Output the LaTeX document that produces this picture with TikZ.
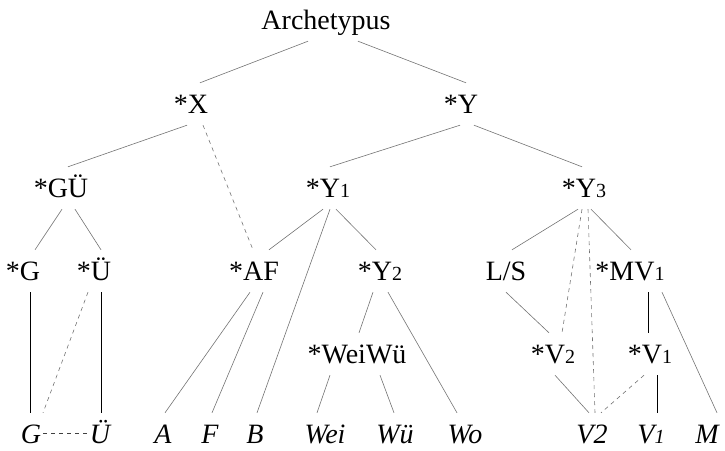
\documentclass[tikz,border=0pt]{standalone}
\usepackage{fontspec}
\setmainfont{Liberation Serif}
\newcommand\dsub[1]{{\fontsize{20}{20}\selectfont #1}}
\begin{document}
\begin{tikzpicture}[x=1pt,y=-1pt,
  every node/.style={font=\fontsize{28}{30}\selectfont, anchor=base,
    inner xsep=2pt, inner ysep=6pt, text height=24pt, text depth=6pt},
  wit/.style={font=\fontsize{28}{30}\selectfont\itshape,
    inner ysep=1pt, text height=29pt, text depth=1pt},
  edge/.style={draw=black!55, line width=0.6pt},
  lost/.style={draw=black!55, line width=0.6pt, dash pattern=on 4pt off 4pt},
  firm/.style={draw=black, line width=0.8pt}]
\useasboundingbox (0,0) rectangle (725,450);

% hypothetical and extant witnesses
\node (arch) at (326,29) {Archetypus};
\node (X)    at (191,113) {*X};
\node (Y)    at (461,113) {*Y};
\node (GU)   at (61,197)  {*GÜ};
\node (Y1)   at (328,197) {*Y\dsub{1}};
\node (Y3)   at (584,197) {*Y\dsub{3}};
\node (Gs)   at (23,280)  {*G};
\node (Us)   at (94,280)  {*Ü};
\node (AF)   at (254,280) {*AF};
\node (Y2)   at (380,280) {*Y\dsub{2}};
\node (LS)   at (506,280) {L/S};
\node (MV1)  at (630,280) {*MV\dsub{1}};
\node (WW)   at (357,363) {*WeiWü};
\node (V2s)  at (553,363) {*V\dsub{2}};
\node (V1s)  at (650,363) {*V\dsub{1}};

\node[wit] (G)   at (31,443)  {G};
\node[wit] (U)   at (100,443) {Ü};
\node[wit] (A)   at (163,443) {A};
\node[wit] (F)   at (210,443) {F};
\node[wit] (B)   at (255,443) {B};
\node[wit] (Wei) at (325,443) {Wei};
\node[wit] (Wu)  at (395,443) {Wü};
\node[wit] (Wo)  at (465,443) {Wo};
\node[wit] (V2)  at (592,443) {V2};
\node[wit] (V1)  at (651,443) {V\dsub{1}};
\node[wit] (M)   at (707,443) {M};

% stemma lines
\draw[edge] ([xshift=-18pt]arch.south) -- ([xshift=9pt]X.north);
\draw[edge] ([xshift=32pt]arch.south) -- ([xshift=5pt]Y.north);
\draw[edge] ([xshift=-4pt]X.south) -- ([xshift=7pt]GU.north);
\draw[lost] ([xshift=12pt]X.south) -- ([xshift=-1pt]AF.north);
\draw[edge] ([xshift=-1pt]Y.south) -- ([xshift=2pt]Y1.north);
\draw[edge] ([xshift=13pt]Y.south) -- ([xshift=-2pt]Y3.north);

\draw[edge] ([xshift=1pt]GU.south) -- ([xshift=12pt]Gs.north);
\draw[edge] ([xshift=14pt]GU.south) -- ([xshift=7pt]Us.north);
\draw[firm] ([xshift=7pt]Gs.south) -- ([xshift=-1pt]G.north);
\draw[firm] ([xshift=7pt]Us.south) -- ([xshift=1pt]U.north);
\draw[lost] ([xshift=-6pt]Us.south) -- ([xshift=12pt]G.north);
\draw[lost, draw=black!75] ([yshift=-4pt]G.east) -- ([yshift=-4pt]U.west);

\draw[edge] ([xshift=-5pt]Y1.south) -- ([xshift=15pt]AF.north);
\draw[edge] ([xshift=2pt]Y1.south) -- ([xshift=2pt]B.north);
\draw[edge] ([xshift=8pt]Y1.south) -- ([xshift=-4pt]Y2.north);
\draw[edge] ([xshift=-4pt]AF.south) -- ([xshift=2pt]A.north);
\draw[edge] ([xshift=9pt]AF.south) -- ([xshift=2pt]F.north);

\draw[edge] ([xshift=-7pt]Y2.south) -- ([xshift=2pt]WW.north);
\draw[edge] ([xshift=8pt]Y2.south) -- ([xshift=-8pt]Wo.north);
\draw[edge] ([xshift=-27pt]WW.south) -- ([xshift=-8pt]Wei.north);
\draw[edge] ([xshift=23pt]WW.south) -- ([xshift=-1pt]Wu.north);

\draw[edge] ([xshift=-6pt]Y3.south) -- ([xshift=6pt]LS.north);
\draw[lost] ([xshift=-2pt]Y3.south) -- ([xshift=9pt]V2s.north);
\draw[lost] ([xshift=4pt]Y3.south) -- ([xshift=3pt]V2.north);
\draw[edge] ([xshift=7pt]Y3.south) -- ([xshift=1pt]MV1.north);
\draw[edge] (LS.south) -- ([xshift=-4pt]V2s.north);
\draw[firm] ([xshift=18pt]MV1.south) -- ([xshift=-2pt]V1s.north);
\draw[edge] ([xshift=32pt]MV1.south) -- ([xshift=10pt]M.north);
\draw[edge] ([xshift=2pt]V2s.south) -- ([xshift=-3pt]V2.north);
\draw[lost] ([xshift=-6pt]V1s.south) -- ([xshift=9pt]V2.north);
\draw[firm] ([xshift=7pt]V1s.south) -- ([xshift=6pt]V1.north);
\end{tikzpicture}
\end{document}
